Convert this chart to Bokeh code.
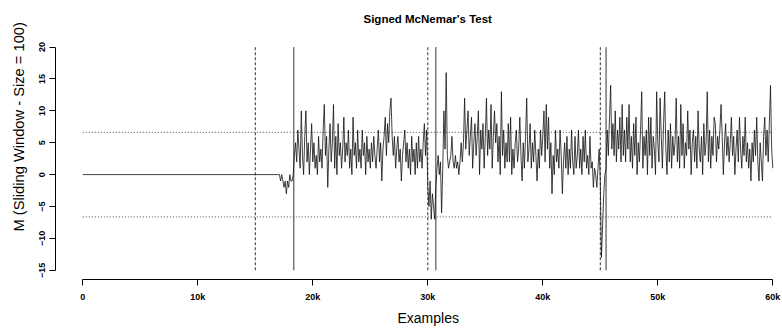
import math
import numpy as np
from bokeh.plotting import figure
from bokeh.models import Range1d, FixedTicker, Title
from bokeh.embed import file_html
from bokeh.resources import INLINE

title_text = "Signed McNemar's Test"
x_label = "Examples"
y_label = "M (Sliding Window - Size = 100)"

x_ticks = [0, 10000, 20000, 30000, 40000, 50000, 60000]
x_tick_labels = ["0", "10k", "20k", "30k", "40k", "50k", "60k"]
y_ticks = [-15, -10, -5, 0, 5, 10, 15, 20]

drift_points = [15000, 30000, 45000]        # true drifts (dashed)
detection_points = [18350, 30700, 45500]    # detections (solid)
threshold = 6.635                           # critical value (dotted)

# M is 0 from example 0 up to 17000, then sampled every 100 examples
flat_until = 17000
sample_step = 100
m_values = [
    0, 0, -1, 0, -1, -2, -1, -3, -1, -2, 0, -1, -1, 0, 3, 5, 2, 7, 4, 1,
    10, 3, 0, 6, 10, 2, 5, 0, 4, 8, 2, 5, 1, 3, 0, 6, 2, 4, 1, 7,
    11, 3, 6, -2, 4, 8, 2, 5, 11, 1, 6, 0, 8, 3, 5, 1, 4, 9, 2, 5,
    3, 7, 1, 4, 0, 9, 3, 5, 1, 7, 2, 4, 1, 7, 3, 5, 0, 6, 2, 4,
    1, 5, 2, 6, 3, 1, 4, 7, 2, 5, -1, 4, 6, 9, 3, 8, 5, 10, 12, 6,
    3, 6, 1, 4, 6, 2, 4, -1, 3, 5, 7, 2, 5, 1, 4, 0, 6, 2, 4, 0,
    5, 1, 6, 2, 4, 1, 5, 8, 3, 7, -2, -5, -1, -7, -3, -5, -7, -2, 1, 3,
    0, 2, -6, 1, 10, 4, 16, 3, 1, 2, 3, 6, 2, 1, 3, 1, 2, 0, 2, 5,
    2, 5, 12, 4, 7, 10, 3, 6, 9, 1, 5, 8, 3, 6, 10, 0, 7, 4, 8, 1,
    6, 12, 3, 7, 4, 11, 1, 6, 10, 5, 8, 2, 6, 0, 13, 3, 7, 1, 5, 2,
    8, 2, 9, 0, 4, 1, 5, 7, 2, 4, 9, 3, -1, 5, 1, 6, 12, 2, 4, 8,
    1, 5, 2, 7, 3, -1, 4, 1, 7, 3, 6, 10, 2, 11, 4, 9, 1, 5, -3, 3,
    0, 7, 2, 4, 1, 7, 3, -3, 2, 5, 1, 6, 0, 4, 1, 7, 2, 0, 6, 1,
    3, 7, 1, 4, 0, 6, 2, 7, 1, 3, 0, 6, 1, 2, -2, 1, 0, -2, 1, 4,
    -1, -13, -8, -3, 0, 1, 7, 3, 9, 14, 4, 8, 3, 10, 2, 7, 4, 9, 2, 11,
    3, 7, 2, 9, 4, 11, 2, 6, 1, 8, 3, 9, 0, 5, 2, 7, 13, 1, 6, 3,
    7, 0, 9, 3, 9, 1, 6, 4, 0, 13, 5, 2, 12, 6, 1, 8, 13, 4, 0, 7,
    2, 8, 1, 6, 3, 5, 12, 2, 6, 1, 11, 3, 8, 1, 5, 3, 10, 4, 7, 0,
    5, 7, 2, 6, 1, 10, 4, 2, 6, 0, 8, 3, 5, 13, 2, 7, 1, 6, 3, 9,
    8, 2, 6, 4, 7, 11, 6, 0, 5, 8, 3, 6, 2, 5, 9, 3, 6, 0, 4, 7,
    2, 9, 4, 1, 6, 3, 9, 2, 5, 1, 4, -1, 5, 2, 7, 3, 9, 2, -1, 5,
    2, -1, 6, 9, 3, 7, 2, 8, 14, 4, 1,
]

xs = [x_ticks[0]] + [flat_until + i * sample_step for i in range(len(m_values))]
ys = [0] + m_values

FONT = "Liberation Sans"

p = figure(width=782, height=328, output_backend="svg", toolbar_location=None,
           x_range=Range1d(-2374, 60843), y_range=Range1d(-16.45, 21.35),
           min_border_left=55, min_border_right=0, min_border_top=38,
           min_border_bottom=47)
p.outline_line_color = None
p.xgrid.visible = False
p.ygrid.visible = False
p.background_fill_color = "white"
p.border_fill_color = "white"

# title (centred on the 0..60k data span, high above the plot as in the reference;
# an empty second line lifts it away from the frame)
p.title.text = title_text + "\n "
p.title.align = "left"
p.title.offset = 308
p.title.vertical_align = "bottom"
p.title.standoff = 4
p.title.text_font = FONT
p.title.text_font_style = "bold"
p.title.text_font_size = "11.5px"
p.title.text_color = "black"

# axes (R style: only between first and last tick)
p.xaxis.ticker = FixedTicker(ticks=x_ticks)
p.xaxis.major_label_overrides = {t: l for t, l in zip(x_ticks, x_tick_labels)}
p.xaxis.bounds = (x_ticks[0], x_ticks[-1])
p.yaxis.ticker = FixedTicker(ticks=y_ticks)
p.yaxis.bounds = (y_ticks[0], y_ticks[-1])
p.yaxis.major_label_orientation = "vertical"
for ax in (p.xaxis[0], p.yaxis[0]):
    ax.minor_tick_line_color = None
    ax.major_tick_in = 0
    ax.major_tick_out = 6
    ax.axis_line_color = "black"
    ax.axis_line_width = 1
    ax.major_tick_line_color = "black"
    ax.major_label_text_font = FONT
    ax.major_label_text_font_style = "bold"
    ax.major_label_text_font_size = "9px"
    ax.major_label_text_color = "black"
p.xaxis.major_label_standoff = 6
p.yaxis.major_label_standoff = 4

# axis titles as extra Title objects so they can be shifted like R's
p.add_layout(Title(text=x_label, align="left", offset=342, standoff=6,
                   text_font=FONT, text_font_style="normal",
                   text_font_size="14px", text_color="black"), "below")
p.add_layout(Title(text=y_label, align="left", offset=48, standoff=16,
                   vertical_align="top",
                   text_font=FONT, text_font_style="normal",
                   text_font_size="14.7px", text_color="black"), "left")

# reference lines
p.segment(x0=drift_points, y0=[y_ticks[0]] * len(drift_points),
          x1=drift_points, y1=[y_ticks[-1]] * len(drift_points),
          line_color="#333333", line_width=1, line_dash="3 2")
p.segment(x0=detection_points, y0=[y_ticks[0]] * len(detection_points),
          x1=detection_points, y1=[y_ticks[-1]] * len(detection_points),
          line_color="#333333", line_width=1)
p.segment(x0=[x_ticks[0], x_ticks[0]], y0=[threshold, -threshold],
          x1=[x_ticks[-1], x_ticks[-1]], y1=[threshold, -threshold],
          line_color="#444444", line_width=1, line_dash="1 2")

# data
p.line(xs, ys, line_color="#111111", line_width=0.8)

open("out.html", "w").write(file_html(p, INLINE))
